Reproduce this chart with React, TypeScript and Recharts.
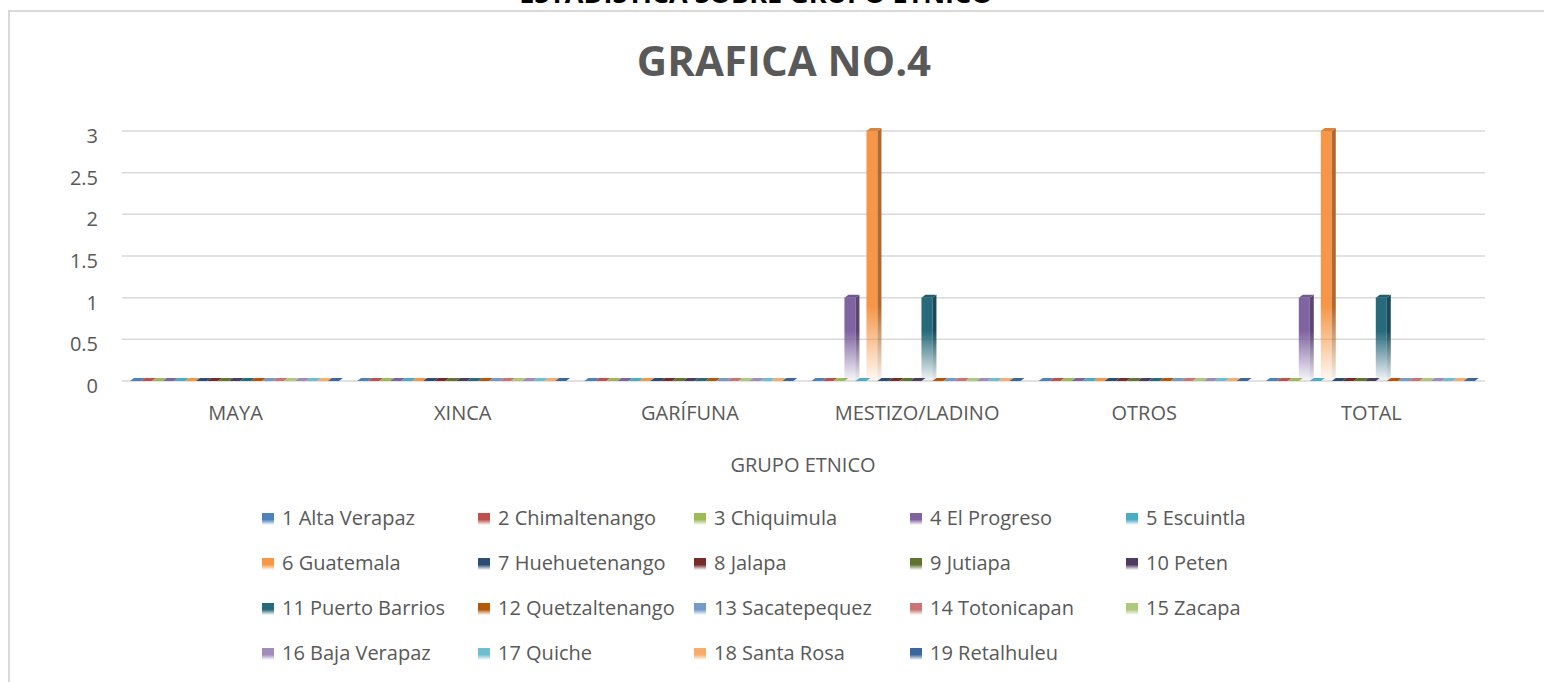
import React from 'react';
import { BarChart, Bar, XAxis, YAxis, CartesianGrid, Legend } from 'recharts';

const categories = ['MAYA', 'XINCA', 'GARÍFUNA', 'MESTIZO/LADINO', 'OTROS', 'TOTAL'];

const seriesNames = [
  '1 Alta Verapaz', '2 Chimaltenango', '3 Chiquimula', '4 El Progreso', '5 Escuintla',
  '6 Guatemala', '7 Huehuetenango', '8 Jalapa', '9 Jutiapa', '10 Peten',
  '11 Puerto Barrios', '12 Quetzaltenango', '13 Sacatepequez', '14 Totonicapan', '15 Zacapa',
  '16 Baja Verapaz', '17 Quiche', '18 Santa Rosa', '19 Retalhuleu',
];

const seriesColors = [
  '#4F81BD', '#C0504D', '#9BBB59', '#8064A2', '#4BACC6',
  '#F79646', '#2C4D75', '#772C2A', '#5F7530', '#4D3B62',
  '#276A7C', '#B65708', '#729ACA', '#CD7371', '#AFC97A',
  '#A18BBB', '#6FBDD1', '#F9AB6B', '#3A679C',
];

// values per series, in category order
const altaVerapaz = [0, 0, 0, 0, 0, 0];
const chimaltenango = [0, 0, 0, 0, 0, 0];
const chiquimula = [0, 0, 0, 0, 0, 0];
const elProgreso = [0, 0, 0, 1, 0, 1];
const escuintla = [0, 0, 0, 0, 0, 0];
const guatemala = [0, 0, 0, 3, 0, 3];
const huehuetenango = [0, 0, 0, 0, 0, 0];
const jalapa = [0, 0, 0, 0, 0, 0];
const jutiapa = [0, 0, 0, 0, 0, 0];
const peten = [0, 0, 0, 0, 0, 0];
const puertoBarrios = [0, 0, 0, 1, 0, 1];
const quetzaltenango = [0, 0, 0, 0, 0, 0];
const sacatepequez = [0, 0, 0, 0, 0, 0];
const totonicapan = [0, 0, 0, 0, 0, 0];
const zacapa = [0, 0, 0, 0, 0, 0];
const bajaVerapaz = [0, 0, 0, 0, 0, 0];
const quiche = [0, 0, 0, 0, 0, 0];
const santaRosa = [0, 0, 0, 0, 0, 0];
const retalhuleu = [0, 0, 0, 0, 0, 0];

const seriesValues = [
  altaVerapaz, chimaltenango, chiquimula, elProgreso, escuintla,
  guatemala, huehuetenango, jalapa, jutiapa, peten,
  puertoBarrios, quetzaltenango, sacatepequez, totonicapan, zacapa,
  bajaVerapaz, quiche, santaRosa, retalhuleu,
];

const yTicks = [0, 0.5, 1, 1.5, 2, 2.5, 3];

const data = categories.map((c, i) => {
  const row: any = { name: c };
  seriesValues.forEach((vals, j) => {
    row['s' + j] = vals[i];
  });
  return row;
});

const FONT = "'Open Sans', sans-serif";
const TEXT = '#595959';

function shade(hex: string, f: number) {
  const n = parseInt(hex.slice(1), 16);
  const r = Math.round(((n >> 16) & 255) * f);
  const g = Math.round(((n >> 8) & 255) * f);
  const b = Math.round((n & 255) * f);
  return `rgb(${r},${g},${b})`;
}

const makeShape = (si: number) => (props: any) => {
  const { x, y, width, height, index } = props;
  if (x == null || y == null || isNaN(x) || isNaN(y)) return <g />;
  const c = seriesColors[si];
  const d = 4;
  const dv = 3;
  const w = width;
  const h = Math.max(0, height || 0);
  const top = y;
  const bottom = y + h;
  const topFace = `M${x},${top} L${x + w},${top} L${x + w + d},${top - dv} L${x + d},${top - dv} Z`;
  if (h < 0.5) {
    return <path d={topFace} fill={c} />;
  }
  const gid = `gf${si}_${index}`;
  const sid = `gs${si}_${index}`;
  const fadeStart = Math.max(top + 0.4 * h, bottom - 75);
  const dark = shade(c, 0.7);
  return (
    <g>
      <defs>
        <linearGradient id={gid} gradientUnits="userSpaceOnUse" x1={0} y1={fadeStart} x2={0} y2={bottom}>
          <stop offset="0" stopColor={c} stopOpacity={1} />
          <stop offset="1" stopColor={c} stopOpacity={0.05} />
        </linearGradient>
        <linearGradient id={sid} gradientUnits="userSpaceOnUse" x1={0} y1={fadeStart} x2={0} y2={bottom}>
          <stop offset="0" stopColor={dark} stopOpacity={1} />
          <stop offset="1" stopColor={dark} stopOpacity={0.08} />
        </linearGradient>
      </defs>
      <rect x={x} y={top} width={w} height={h} fill={`url(#${gid})`} />
      <path
        d={`M${x + w},${top} L${x + w + d},${top - dv} L${x + w + d},${bottom - dv} L${x + w},${bottom} Z`}
        fill={`url(#${sid})`}
      />
      <path d={topFace} fill={shade(c, 0.88)} />
    </g>
  );
};

const YTick = (props: any) => {
  const { x, y, payload } = props;
  return (
    <text x={x} y={y + 12} textAnchor="end" fontFamily={FONT} fontSize={20} fill={TEXT}>
      {payload.value}
    </text>
  );
};

const XTick = (props: any) => {
  const { x, y, payload } = props;
  return (
    <text x={x} y={y + 39} textAnchor="middle" fontFamily={FONT} fontSize={20} fill={TEXT}>
      {payload.value}
    </text>
  );
};

const LEG_X0 = 262;
const LEG_COL = 216;
const LEG_ROW = 45;

const CustomLegend = () => (
  <div style={{ position: 'relative', width: 1544, height: 180 }}>
    {seriesNames.map((name, i) => {
      const col = i % 5;
      const row = Math.floor(i / 5);
      const c = seriesColors[i];
      return (
        <div
          key={name}
          style={{
            position: 'absolute',
            left: LEG_X0 + col * LEG_COL,
            top: row * LEG_ROW,
            height: 36,
            lineHeight: '36px',
            whiteSpace: 'nowrap',
            fontFamily: FONT,
            fontSize: 20,
            color: TEXT,
          }}
        >
          <span
            style={{
              position: 'absolute',
              left: 0,
              top: 13,
              width: 12,
              height: 12,
              background: `linear-gradient(${c} 0%, ${c} 55%, #ffffff 100%)`,
            }}
          />
          <span style={{ position: 'absolute', left: 20, top: 0 }}>{name}</span>
        </div>
      );
    })}
  </div>
);

export default function App() {
  return (
    <div style={{ position: 'absolute', left: 0, top: 0, width: 1544, height: 682, background: '#fff', overflow: 'hidden' }}>
      <svg width={1544} height={682} style={{ position: 'absolute', left: 0, top: 0 }}>
        <text x={756} y={3} textAnchor="middle" fontFamily={FONT} fontWeight={700} fontSize={27} fill="#000">
          ESTADISTICA SOBRE GRUPO ETNICO
        </text>
        <path d="M9,682 L9,11 L1544,11" fill="none" stroke="#d9d9d9" strokeWidth={2} />
        <text x={784} y={76} textAnchor="middle" fontFamily={FONT} fontWeight={700} fontSize={42} fill={TEXT}>
          GRAFICA NO.4
        </text>
        <text x={803} y={472} textAnchor="middle" fontFamily={FONT} fontSize={20} fill={TEXT}>
          GRUPO ETNICO
        </text>
      </svg>
      <div style={{ position: 'absolute', left: 0, top: 0 }}>
        <BarChart
          width={1544}
          height={682}
          data={data}
          margin={{ top: 131, right: 59, bottom: 201, left: 0 }}
          barCategoryGap="3.5%"
          barGap={0}
        >
          <CartesianGrid vertical={false} stroke="#d9d9d9" strokeWidth={1.5} />
          <XAxis
            dataKey="name"
            axisLine={false}
            tickLine={false}
            tickSize={0}
            tickMargin={0}
            height={100}
            tick={<XTick />}
            interval={0}
          />
          <YAxis
            width={122}
            domain={[0, 3]}
            ticks={yTicks}
            axisLine={false}
            tickLine={false}
            tickSize={0}
            tickMargin={24}
            tick={<YTick />}
          />
          <Legend
            layout="horizontal"
            verticalAlign="middle"
            align="center"
            wrapperStyle={{ left: 0, top: 500, width: 1544, height: 180 }}
            content={() => <CustomLegend />}
          />
          {seriesNames.map((name, i) => (
            <Bar
              key={name}
              dataKey={'s' + i}
              name={name}
              fill={seriesColors[i]}
              shape={makeShape(i)}
              isAnimationActive={false}
            />
          ))}
        </BarChart>
      </div>
    </div>
  );
}
